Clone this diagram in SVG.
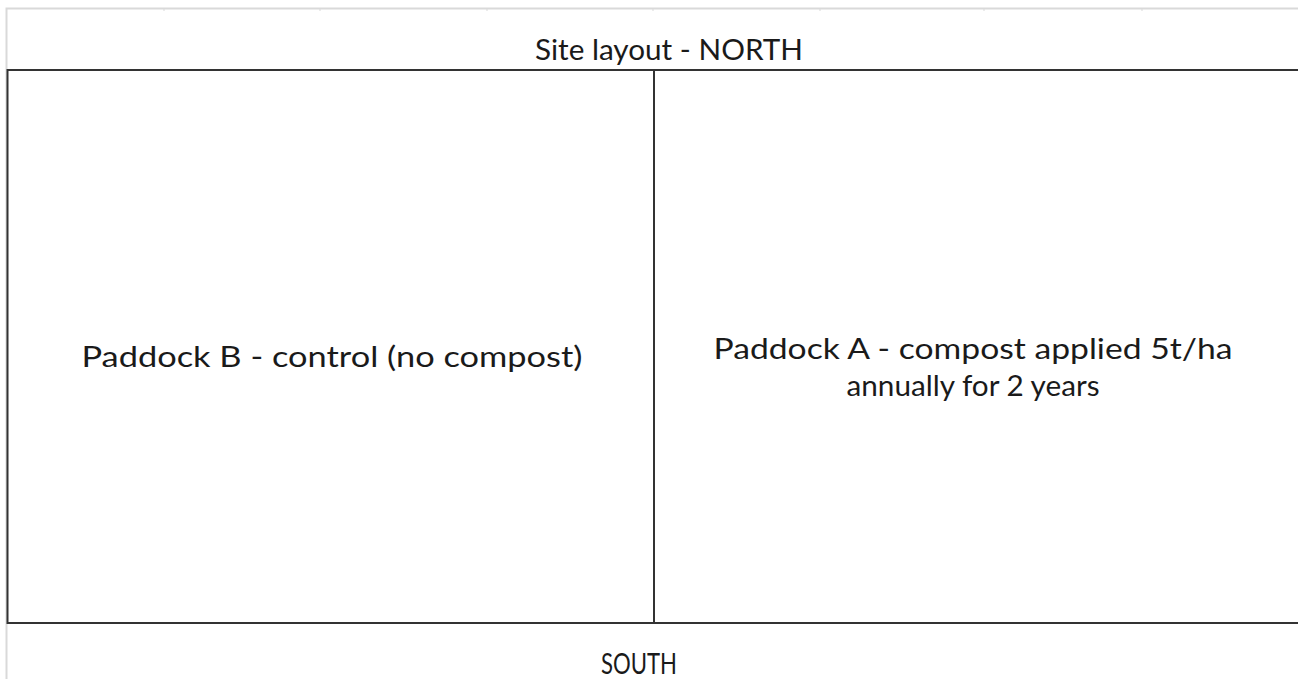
<svg xmlns="http://www.w3.org/2000/svg" width="1298" height="679" viewBox="0 0 1298 679">
<style>
.grid{stroke:#d9d9d9;stroke-width:2;fill:none}
.tick{stroke:#d9d9d9;stroke-width:1}
.box{stroke:#333;stroke-width:2;fill:none}
.t{font-family:Lato,"Open Sans",sans-serif;font-size:29px;fill:#1a1a1a;text-anchor:middle}
</style>
<rect width="1298" height="679" fill="#fff"/>
<g id="sheet-grid">
<path class="grid" d="M6.5 679V8.5H1298"/>
<path class="tick" d="M164 9v2M320 9v2M487 9v2M653 9v2M820 9v2M984 9v2M1142 9v2"/>
</g>
<g id="title-north"><text class="t" x="669" y="60" textLength="268" lengthAdjust="spacingAndGlyphs">Site layout - NORTH</text></g>
<g id="site-box"><path class="box" d="M1300 70H7.5V623H1300"/></g>
<g id="paddock-b"><text class="t" x="332" y="367" textLength="501" lengthAdjust="spacingAndGlyphs">Paddock B - control (no compost)</text></g>
<g id="connectors"><line class="box" x1="654" y1="70" x2="654" y2="623"/></g>
<g id="paddock-a">
<text class="t" x="973" y="359" textLength="519" lengthAdjust="spacingAndGlyphs">Paddock A - compost applied 5t/ha</text>
<text class="t" x="973" y="396" textLength="253" lengthAdjust="spacingAndGlyphs">annually for 2 years</text>
</g>
<g id="title-south"><text class="t" x="639" y="674" textLength="76" lengthAdjust="spacingAndGlyphs">SOUTH</text></g>
</svg>
